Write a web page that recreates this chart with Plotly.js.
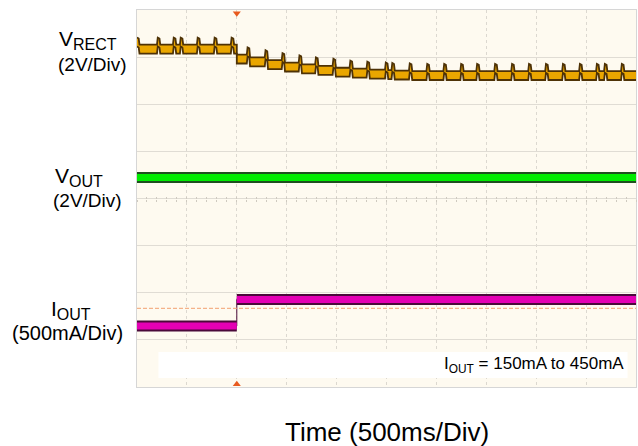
<!DOCTYPE html>
<html>
<head>
<meta charset="utf-8">
<script src="https://cdn.plot.ly/plotly-3.0.1.min.js"></script>
<style>html,body{margin:0;padding:0;background:#fff;}#chart{width:638px;height:446px;}</style>
</head>
<body>
<div id="chart"></div>
<script>
// Time axis in seconds (500 ms/div, 10 div); vertical axis in divisions (8 div)
const vrectT = [0,0.017,0.025,
  0.20,0.208,0.225,0.233, 0.36,0.368,0.385,0.393, 0.43,0.438,0.455,0.463,
  0.60,0.608,0.625,0.633, 0.77,0.778,0.795,0.803, 0.94,0.948,0.965,0.973,
  1.00,1.00,
  1.10,1.108,1.125,1.133, 1.28,1.288,1.305,1.313, 1.45,1.458,1.475,1.483,
  1.62,1.628,1.645,1.653, 1.785,1.793,1.810,1.818, 1.96,1.968,1.985,1.993,
  2.13,2.138,2.155,2.163, 2.30,2.308,2.325,2.333, 2.485,2.493,2.510,2.518,
  2.55,2.558,2.575,2.583, 2.725,2.733,2.750,2.758, 2.90,2.908,2.925,2.933,
  3.07,3.078,3.095,3.103, 3.24,3.248,3.265,3.273, 3.40,3.408,3.425,3.433,
  3.58,3.588,3.605,3.613, 3.75,3.758,3.775,3.783, 3.92,3.928,3.945,3.953,
  4.09,4.098,4.115,4.123, 4.26,4.268,4.285,4.293, 4.43,4.438,4.455,4.463,
  4.60,4.608,4.625,4.633, 4.68,4.688,4.705,4.713, 4.85,4.858,4.875,4.883,
  5.00];
const vrectV = [7.32,7.30,7.17,
  7.17,7.32,7.30,7.17, 7.17,7.32,7.30,7.17, 7.17,7.32,7.30,7.17,
  7.17,7.32,7.30,7.17, 7.17,7.32,7.30,7.17, 7.17,7.32,7.30,7.17,
  7.17,6.96,
  6.96,7.11,7.09,6.90, 6.90,7.05,7.03,6.84, 6.84,6.99,6.97,6.79,
  6.79,6.94,6.92,6.75, 6.75,6.90,6.88,6.72, 6.72,6.87,6.85,6.68,
  6.68,6.83,6.81,6.66, 6.66,6.81,6.79,6.64, 6.64,6.79,6.77,6.63,
  6.63,6.78,6.76,6.62, 6.62,6.77,6.75,6.61, 6.61,6.76,6.74,6.61,
  6.61,6.76,6.74,6.61, 6.61,6.76,6.74,6.61, 6.61,6.76,6.74,6.61,
  6.61,6.76,6.74,6.61, 6.61,6.76,6.74,6.61, 6.61,6.76,6.74,6.61,
  6.61,6.76,6.74,6.61, 6.61,6.76,6.74,6.61, 6.61,6.76,6.74,6.61,
  6.61,6.76,6.74,6.61, 6.61,6.76,6.74,6.61, 6.61,6.76,6.74,6.61,
  6.61];
const voutT = [0, 5];
const voutV = [4.445, 4.445];
const ioutT = [0, 1.0, 1.0, 5.0];
const ioutV = [1.294, 1.294, 1.857, 1.857];
const refT = [0, 5];
const refV = [1.67, 1.67];
const trigT = [1.0, 1.0];
const trigV = [7.93, 0.06];

// drawing helpers: trace band thickness (style) and IOUT thick segments without the vertical jump
const bandHalf = 0.095;
const vrectUp = vrectV.map(v => v + bandHalf);
const vrectLo = vrectV.map(v => v - bandHalf);
const gapT = [], gapV = [];
ioutT.forEach((t, i) => {
  if (i > 0 && t === ioutT[i-1]) { gapT.push(null); gapV.push(null); }
  gapT.push(t); gapV.push(ioutV[i]);
});

const traces = [
  {x: vrectT, y: vrectLo, mode: 'lines', line: {color: '#4e3206', width: 1.8}, hoverinfo: 'skip'},
  {x: vrectT, y: vrectUp, mode: 'lines', fill: 'tonexty', fillcolor: '#eaa600', line: {color: '#4e3206', width: 1.8}, hoverinfo: 'skip'},
  {x: voutT, y: voutV, mode: 'lines', line: {color: '#1f4f1f', width: 11}, hoverinfo: 'skip'},
  {x: voutT, y: voutV, mode: 'lines', line: {color: '#00ec00', width: 7}, hoverinfo: 'skip'},
  {x: refT, y: refV, xaxis: 'x2', mode: 'lines', line: {color: '#f2a070', width: 1, dash: '4px,2px'}, hoverinfo: 'skip'},
  {x: ioutT, y: ioutV, mode: 'lines', line: {color: '#4a0a3a', width: 1}, hoverinfo: 'skip'},
  {x: gapT, y: gapV, mode: 'lines', line: {color: '#4a0a3a', width: 11}, hoverinfo: 'skip'},
  {x: gapT, y: gapV, mode: 'lines', line: {color: '#e400b4', width: 7}, hoverinfo: 'skip'},
  {x: trigT, y: trigV, xaxis: 'x3', mode: 'markers', cliponaxis: false,
   marker: {symbol: ['triangle-down', 'triangle-up'], size: 7, color: '#e85a1e'}, hoverinfo: 'skip'}
];

const baseX = {range: [0, 5], showticklabels: false, zeroline: false, fixedrange: true};
const px2x = px => (px - 136.5) / 500;
const px2y = py => (387 - py) / 377;
const lab = (text, px, py, size) => ({text: text, xref: 'paper', yref: 'paper', x: px2x(px), y: px2y(py),
  xanchor: 'center', yanchor: 'middle', showarrow: false, font: {size: size}});
const sub = s => '<sub><span style="font-size:16px">' + s + '</span></sub>';

const layout = {
  width: 638, height: 446,
  margin: {l: 136.5, r: 2, t: 10, b: 59},
  paper_bgcolor: '#ffffff', plot_bgcolor: '#fefaf0',
  showlegend: false,
  font: {family: 'Liberation Sans, Arial, sans-serif', color: '#000'},
  xaxis: Object.assign({}, baseX, {dtick: 0.5, tick0: 0, showgrid: true, gridcolor: '#dcd8d0', griddash: 'dot', gridwidth: 1,
    showline: true, mirror: true, linecolor: '#d6d6d6', linewidth: 1, ticks: ''}),
  xaxis2: Object.assign({}, baseX, {overlaying: 'x', anchor: 'free', position: 0.5, ticks: 'outside', ticklen: 2,
    tickcolor: '#cfcac0', dtick: 0.1, tick0: 0, showgrid: false, showline: false}),
  xaxis3: Object.assign({}, baseX, {overlaying: 'x', anchor: 'free', position: 0.5, ticks: 'inside', ticklen: 2,
    tickcolor: '#cfcac0', dtick: 0.1, tick0: 0, showgrid: false, showline: false}),
  yaxis: {range: [0, 8], dtick: 1, tick0: 0, showticklabels: false, zeroline: false, showgrid: true,
    gridcolor: '#e0dcd4', gridwidth: 1, showline: true, mirror: true, linecolor: '#d6d6d6', ticks: '', fixedrange: true},
  shapes: [
    {type: 'rect', xref: 'x', yref: 'y', x0: 0.215, x1: 4.915, y0: 0.19, y1: 0.743, fillcolor: '#ffffff', line: {width: 0}, layer: 'above'}
  ],
  annotations: [
    lab('V' + sub('RECT'), 87, 40, 21),
    lab('(2V/Div)', 92, 64, 19),
    lab('V' + sub('OUT'), 78, 177, 21),
    lab('(2V/Div)', 87, 201, 19),
    lab('I' + sub('OUT'), 70, 310, 21),
    lab('(500mA/Div)', 67, 333, 20),
    {text: 'I<sub>OUT</sub> = 150mA to 450mA', xref: 'paper', yref: 'paper', x: px2x(626), y: px2y(365),
     xanchor: 'right', yanchor: 'middle', showarrow: false, font: {size: 17}},
    lab('Time (500ms/Div)', 386.5, 432, 26)
  ]
};

Plotly.newPlot('chart', traces, layout, {displayModeBar: false, staticPlot: true});
</script>
</body>
</html>
